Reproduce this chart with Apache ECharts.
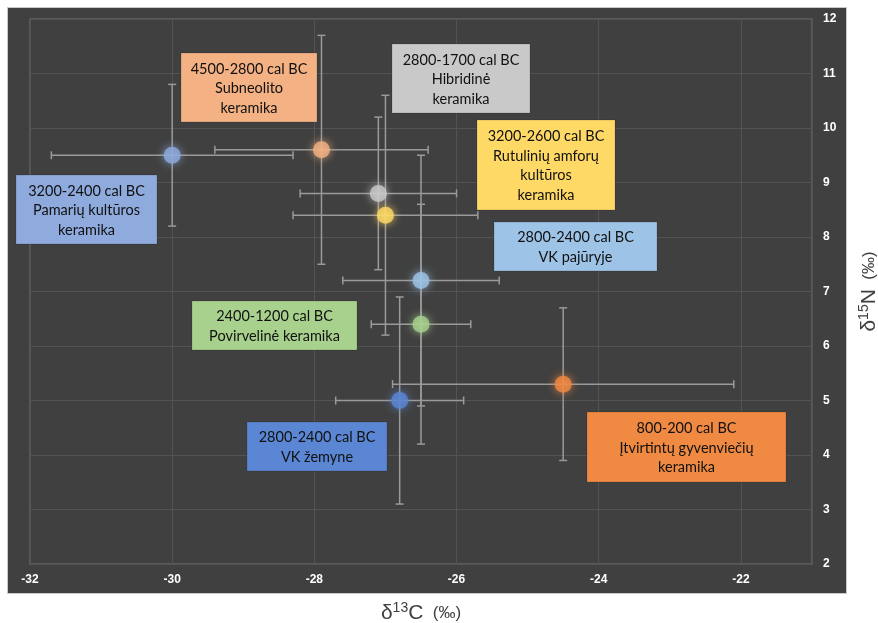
<!DOCTYPE html>
<html>
<head>
<meta charset="utf-8">
<script src="https://cdn.jsdelivr.net/npm/echarts@6/dist/echarts.min.js"></script>
<style>
html,body{margin:0;padding:0;background:#fff;}
#c{width:878px;height:623px;}
</style>
</head>
<body>
<div id="c"></div>
<script>
// ---- data ----
const periods = ['3200-2400 cal BC','4500-2800 cal BC','2800-1700 cal BC','3200-2600 cal BC','2800-2400 cal BC','2400-1200 cal BC','2800-2400 cal BC','800-200 cal BC'];
const groupNames = ['Pamarių kultūros\nkeramika','Subneolito\nkeramika','Hibridinė\nkeramika','Rutulinių amforų\nkultūros\nkeramika','VK pajūryje','Povirvelinė keramika','VK žemyne','Įtvirtintų gyvenviečių\nkeramika'];
const d13C = [-30.0, -27.9, -27.1, -27.0, -26.5, -26.5, -26.8, -24.5];
const d15N = [9.5, 9.6, 8.8, 8.4, 7.2, 6.4, 5.0, 5.3];
const errC = [1.7, 1.5, 1.1, 1.3, 1.1, 0.7, 0.9, 2.4];
const errN = [1.3, 2.1, 1.4, 2.2, 2.3, 2.2, 1.9, 1.4];
const xTicks = [-32, -30, -28, -26, -24, -22];
const yTicks = [2, 3, 4, 5, 6, 7, 8, 9, 10, 11, 12];

// ---- styles / layout ----
const colors = ['#8faadc','#f4b183','#c9c9c9','#ffd966','#9dc3e6','#a9d18e','#5a86d3','#f08a42'];
const boxLayout = [
  {x:16, y:175, w:141, h:69},
  {x:181, y:53, w:136, h:69},
  {x:392, y:44, w:138, h:69},
  {x:477, y:120, w:138, h:90},
  {x:494, y:222, w:163, h:49},
  {x:192, y:301, w:165, h:49},
  {x:247, y:422, w:140, h:49},
  {x:587, y:412, w:199, h:70}
];

const chart = echarts.init(document.getElementById('c'), null, {renderer:'canvas'});

const graphics = [
  {type:'rect', z:-100, shape:{x:7.5, y:7.5, width:839, height:586}, style:{fill:'#404040', stroke:'#c8c8c8', lineWidth:1}}
];
boxLayout.forEach((b, i) => {
  graphics.push({type:'rect', z:100, shape:{x:b.x, y:b.y, width:b.w, height:b.h}, style:{fill:colors[i], stroke:'rgba(0,0,0,0.15)', lineWidth:1}});
  graphics.push({type:'text', z:101, style:{text: periods[i] + '\n' + groupNames[i], x:b.x + b.w/2, y:b.y + b.h/2 + 1,
        align:'center', verticalAlign:'middle', textAlign:'center', textVerticalAlign:'middle',
        fill:'#111', font:'14.5px Lato', lineHeight:19.5}});
});

const pts = d13C.map((x, i) => [x, d15N[i], errC[i], errN[i]]);

const nameRich = {
  d:{fontFamily:'Liberation Sans', fontSize:21, color:'#404040', lineHeight:24},
  s:{fontFamily:'Liberation Sans', fontSize:14, color:'#404040', verticalAlign:'top', lineHeight:24, padding:[0,0,8,0]},
  p:{fontFamily:'Liberation Sans', fontSize:17, color:'#404040', lineHeight:24}
};

chart.setOption({
  animation:false,
  backgroundColor:'#ffffff',
  grid:{left:30, top:19, right:66, bottom:59, containLabel:false, outerBoundsMode:'none',
        show:true, backgroundColor:'#404040', borderColor:'#626262', borderWidth:1.5},
  xAxis:{
    type:'value', min:-32, max:-21, interval:2,
    axisLine:{show:false}, axisTick:{show:false},
    splitLine:{show:true, lineStyle:{color:'#535353', width:1}},
    axisLabel:{color:'#ffffff', fontFamily:'Liberation Sans', fontWeight:'bold', fontSize:12, margin:10,
      formatter: v => xTicks.includes(v) ? String(v) : ''},
    name:'{d|δ}{s|13}{d|C}{p|  (‰)}', nameLocation:'middle', nameGap:37,
    nameTextStyle:{rich:nameRich}
  },
  yAxis:{
    type:'value', position:'right', min:2, max:12, interval:1,
    axisLine:{show:false}, axisTick:{show:false},
    splitLine:{show:true, lineStyle:{color:'#535353', width:1}},
    axisLabel:{color:'#ffffff', fontFamily:'Liberation Sans', fontWeight:'bold', fontSize:12, margin:11,
      formatter: v => yTicks.includes(v) ? String(v) : ''},
    name:'{d|δ}{s|15}{d|N}{p|  (‰)}', nameLocation:'middle', nameGap:45, nameRotate:90,
    nameTextStyle:{rich:nameRich}
  },
  graphic: graphics,
  series:[
    {
      type:'custom', z:2,
      data: pts,
      renderItem: (params, api) => {
        const x = api.value(0), y = api.value(1), ex = api.value(2), ey = api.value(3);
        const l = api.coord([x - ex, y]), r = api.coord([x + ex, y]);
        const t = api.coord([x, y + ey]), b = api.coord([x, y - ey]);
        const st = {stroke:'#9a9a9a', lineWidth:1.5};
        const cap = 4;
        return {type:'group', children:[
          {type:'line', shape:{x1:l[0], y1:l[1], x2:r[0], y2:r[1]}, style:st},
          {type:'line', shape:{x1:l[0], y1:l[1]-cap, x2:l[0], y2:l[1]+cap}, style:st},
          {type:'line', shape:{x1:r[0], y1:r[1]-cap, x2:r[0], y2:r[1]+cap}, style:st},
          {type:'line', shape:{x1:t[0], y1:t[1], x2:b[0], y2:b[1]}, style:st},
          {type:'line', shape:{x1:t[0]-cap, y1:t[1], x2:t[0]+cap, y2:t[1]}, style:st},
          {type:'line', shape:{x1:b[0]-cap, y1:b[1], x2:b[0]+cap, y2:b[1]}, style:st}
        ]};
      }
    },
    {
      type:'scatter', z:5, symbol:'circle', symbolSize:17,
      data: pts.map((p, i) => ({value:[p[0], p[1]], itemStyle:{color:colors[i], shadowColor:colors[i], shadowBlur:8}}))
    }
  ]
});
</script>
</body>
</html>
